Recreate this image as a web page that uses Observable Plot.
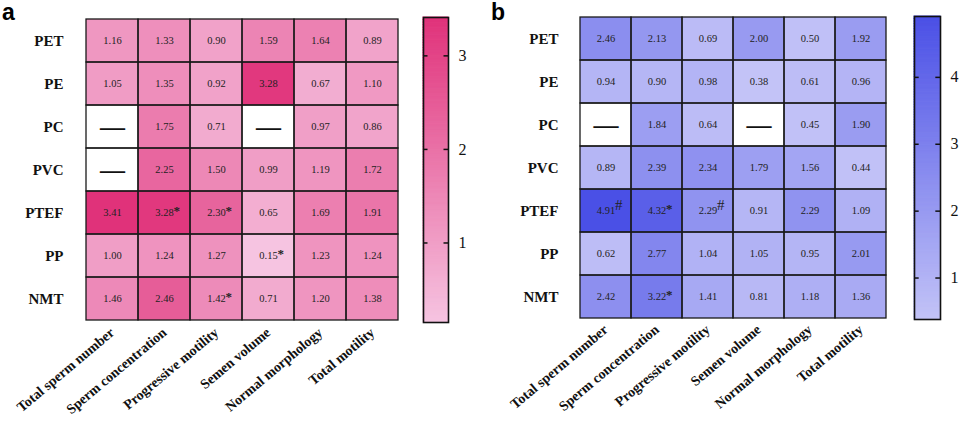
<!DOCTYPE html>
<html>
<head>
<meta charset="utf-8">
<script src="https://cdn.jsdelivr.net/npm/d3@7"></script>
<script src="https://cdn.jsdelivr.net/npm/@observablehq/plot@0.6"></script>
<style>
  html, body { margin: 0; padding: 0; background: #fff; }
  #wrap { display: flex; width: 960px; height: 433px; }
  .panel { position: relative; width: 480px; height: 433px; }
  .panel svg { position: absolute; left: 0; top: 0; }
  .panel svg, .panel svg text { font-family: "Liberation Serif", "Times New Roman", serif !important; }
  .letter { position: absolute; font-family: "Liberation Sans", Arial, sans-serif; font-weight: bold; font-size: 23px; line-height: 1; }
</style>
</head>
<body>
<div id="wrap"><div class="panel" id="pa"></div><div class="panel" id="pb"></div></div>
<script>
const rows = ["PET", "PE", "PC", "PVC", "PTEF", "PP", "NMT"];
const cols = ["Total sperm number", "Sperm concentration", "Progressive motility", "Semen volume", "Normal morphology", "Total motility"];

const aValues = [
  [1.16, 1.33, 0.90, 1.59, 1.64, 0.89],
  [1.05, 1.35, 0.92, 3.28, 0.67, 1.10],
  [null, 1.75, 0.71, null, 0.97, 0.86],
  [null, 2.25, 1.50, 0.99, 1.19, 1.72],
  [3.41, 3.28, 2.30, 0.65, 1.69, 1.91],
  [1.00, 1.24, 1.27, 0.15, 1.23, 1.24],
  [1.46, 2.46, 1.42, 0.71, 1.20, 1.38]
];
const aMarks = [
  ["", "", "", "", "", ""],
  ["", "", "", "", "", ""],
  ["", "", "", "", "", ""],
  ["", "", "", "", "", ""],
  ["", "*", "*", "", "", ""],
  ["", "", "", "*", "", ""],
  ["", "", "*", "", "", ""]
];
const aTicks = [1, 2, 3];

const bValues = [
  [2.46, 2.13, 0.69, 2.00, 0.50, 1.92],
  [0.94, 0.90, 0.98, 0.38, 0.61, 0.96],
  [null, 1.84, 0.64, null, 0.45, 1.90],
  [0.89, 2.39, 2.34, 1.79, 1.56, 0.44],
  [4.91, 4.32, 2.29, 0.91, 2.29, 1.09],
  [0.62, 2.77, 1.04, 1.05, 0.95, 2.01],
  [2.42, 3.22, 1.41, 0.81, 1.18, 1.36]
];
const bMarks = [
  ["", "", "", "", "", ""],
  ["", "", "", "", "", ""],
  ["", "", "", "", "", ""],
  ["", "", "", "", "", ""],
  ["#", "*", "#", "", "", ""],
  ["", "", "", "", "", ""],
  ["", "*", "", "", "", ""]
];
const bTicks = [1, 2, 3, 4];

const aColors = ["#f6c4e1", "#e0327a"];
const bColors = ["#c3c3f7", "#4a50e6"];

const SERIF = "Liberation Serif";

function table(values, marks) {
  const out = [];
  rows.forEach((r, i) => cols.forEach((c, j) => out.push({row: r, col: c, value: values[i][j], mark: marks[i][j]})));
  return out;
}

function panel(el, values, marks, ticks, colors, g) {
  const data = table(values, marks);
  const vals = data.filter(d => d.value != null).map(d => d.value);
  const domain = d3.extent(vals);
  const color = {type: "linear", domain, range: colors, interpolate: "rgb"};

  const heat = Plot.plot({
    width: 480, height: 433,
    marginLeft: g.hl, marginRight: 480 - g.hr, marginTop: g.top, marginBottom: 433 - g.bottom,
    style: {background: "transparent", overflow: "visible"},
    x: {type: "band", domain: cols, padding: 0, axis: null, label: null},
    y: {type: "band", domain: rows, padding: 0, axis: null, label: null},
    color,
    marks: [
      Plot.cell(data, {x: "col", y: "row", fill: "white", inset: 0}),
      Plot.cell(data.filter(d => d.value != null), {x: "col", y: "row", fill: "value", inset: 0}),
      Plot.cell(data, {x: "col", y: "row", fill: "none", stroke: "#1a1a1a", strokeWidth: 1.3, inset: 0}),
      Plot.text(data.filter(d => d.value != null), {x: "col", y: "row", text: d => d.value.toFixed(2), fontFamily: SERIF, fontSize: 10.5, fill: "#222"}),
      Plot.text(data.filter(d => d.mark === "*"), {x: "col", y: "row", text: "mark", textAnchor: "start", dx: 9, dy: -2, fontFamily: SERIF, fontSize: 13, fontWeight: "bold", fill: "#222"}),
      Plot.text(data.filter(d => d.mark === "#"), {x: "col", y: "row", text: "mark", textAnchor: "start", dx: 9, dy: -6, fontFamily: SERIF, fontSize: 15, fill: "#222"}),
      Plot.text(data.filter(d => d.value == null), {x: "col", y: "row", text: () => "\u2014", fontFamily: SERIF, fontSize: 25, fontWeight: "bold", fill: "#111"}),
      Plot.axisY({tickSize: 0, tickPadding: g.ypad, label: null, fontFamily: SERIF, fontSize: 15, fontWeight: "bold", fill: "#111"}),
      Plot.axisX({anchor: "bottom", tickSize: 0, tickRotate: -40, tickPadding: 8, label: null, fontFamily: SERIF, fontSize: 14, fontWeight: "bold", fill: "#111", textAnchor: "end", lineAnchor: "middle"})
    ]
  });
  el.appendChild(heat);

  const n = 120;
  const steps = d3.range(n).map(i => {
    const a = domain[0] + (domain[1] - domain[0]) * i / n;
    const b = domain[0] + (domain[1] - domain[0]) * (i + 1) / n;
    return {a, b, v: (a + b) / 2};
  });
  const bar = Plot.plot({
    width: 480, height: 433,
    marginLeft: g.cl, marginRight: 480 - g.cr, marginTop: g.top, marginBottom: 433 - g.bottom,
    style: {background: "transparent", overflow: "visible"},
    x: {domain: [0, 1], axis: null},
    y: {domain, axis: null},
    color,
    marks: [
      Plot.rect(steps, {x1: 0, x2: 1, y1: "a", y2: "b", fill: "v", stroke: "v", strokeWidth: 1}),
      Plot.ruleY(ticks, {x1: 0, x2: 0.18, stroke: "#111", strokeWidth: 1.5}),
      Plot.ruleY(ticks, {x1: 0.82, x2: 1, stroke: "#111", strokeWidth: 1.5}),
      Plot.frame({stroke: "#111", strokeWidth: 1.6}),
      Plot.axisY(ticks, {anchor: "right", tickSize: 0, tickPadding: g.cpad, tickFormat: d3.format("d"), label: null, fontFamily: SERIF, fontSize: 16, fill: "#111"})
    ]
  });
  el.appendChild(bar);

  const lab = document.createElement("div");
  lab.className = "letter";
  lab.textContent = g.letter;
  lab.style.left = g.lx + "px";
  lab.style.top = g.ly + "px";
  el.appendChild(lab);
}

panel(document.getElementById("pa"), aValues, aMarks, aTicks, aColors,
  {hl: 85, hr: 399, top: 17, bottom: 322, ypad: 22, cl: 423, cr: 448, cpad: 10, letter: "a", lx: 2, ly: 1});
panel(document.getElementById("pb"), bValues, bMarks, bTicks, bColors,
  {hl: 97, hr: 408, top: 16, bottom: 319, ypad: 19, cl: 434, cr: 460, cpad: 10, letter: "b", lx: 11, ly: 1});
</script>
</body>
</html>
